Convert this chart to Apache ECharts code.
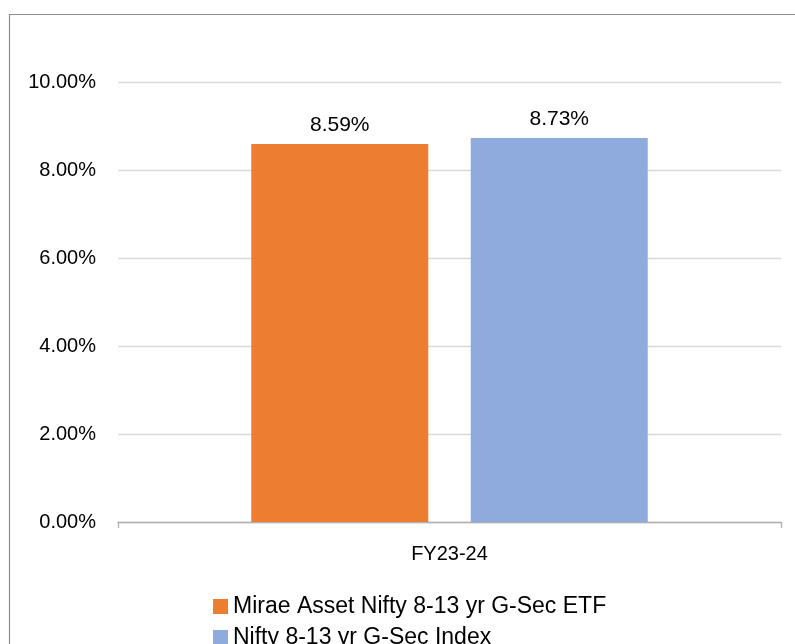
<!DOCTYPE html>
<html>
<head>
<meta charset="utf-8">
<script src="https://cdn.jsdelivr.net/npm/echarts@6/dist/echarts.min.js"></script>
<style>
	html, body { margin: 0; padding: 0; background: #fff; }
	#chart { width: 795px; height: 644px; }
</style>
</head>
<body>
<div id="chart"></div>
<script>
var categories = ["FY23-24"];
var seriesNames = ["Mirae Asset Nifty 8-13 yr G-Sec ETF", "Nifty 8-13 yr G-Sec Index"];
var etfValues = [8.59];
var indexValues = [8.73];
var yTicks = [0, 2, 4, 6, 8, 10];

var fontFamily = "Liberation Sans, Arial, sans-serif";

var myChart = echarts.init(document.getElementById("chart"), null, { renderer: "canvas" });

var labelOpt = {
	show: true,
	position: "top",
	distance: 8,
	color: "#000",
	fontFamily: fontFamily,
	fontSize: 21,
	formatter: function (p) {
		return p.value.toFixed(2) + "%";
	}
};

// one legend per row, stacked like the original
function legendRow(name, top) {
	return {
		orient: "vertical",
		left: 213,
		top: top,
		padding: 0,
		itemWidth: 15,
		itemHeight: 15,
		icon: "rect",
		textStyle: {
			fontFamily: fontFamily,
			fontSize: 23,
			color: "#000"
		},
		data: [name]
	};
}

var option = {
	animation: false,
	backgroundColor: "#fff",
	color: ["#ED7D31", "#8FAADC"],
	graphic: [{
		type: "rect",
		shape: { x: 9.5, y: 14.5, width: 900, height: 800 },
		style: { fill: "none", stroke: "#8c8c8c", lineWidth: 1.2 },
		silent: true
	}],
	grid: {
		left: 118,
		right: 14,
		top: 82,
		bottom: 122
	},
	legend: [
		legendRow(seriesNames[0], 595),
		legendRow(seriesNames[1], 626)
	],
	xAxis: {
		type: "category",
		data: categories,
		axisLine: { lineStyle: { color: "#b0b0b0", width: 1.3 } },
		axisTick: { show: true, length: 6, lineStyle: { color: "#b0b0b0", width: 1.3 } },
		axisLabel: {
			margin: 22,
			color: "#000",
			fontFamily: fontFamily,
			fontSize: 20
		}
	},
	yAxis: {
		type: "value",
		min: yTicks[0],
		max: yTicks[yTicks.length - 1],
		interval: 2,
		axisLine: { show: false },
		axisTick: { show: false },
		splitLine: { lineStyle: { color: "#d9d9d9", width: 1.3 } },
		axisLabel: {
			margin: 22,
			color: "#000",
			fontFamily: fontFamily,
			fontSize: 20,
			formatter: function (v) {
				return v.toFixed(2) + "%";
			}
		}
	},
	series: [
		{
			name: seriesNames[0],
			type: "bar",
			data: etfValues,
			barWidth: 177,
			barGap: "24%",
			label: labelOpt
		},
		{
			name: seriesNames[1],
			type: "bar",
			data: indexValues,
			barWidth: 177,
			barGap: "24%",
			label: labelOpt
		}
	]
};

myChart.setOption(option);
</script>
</body>
</html>
